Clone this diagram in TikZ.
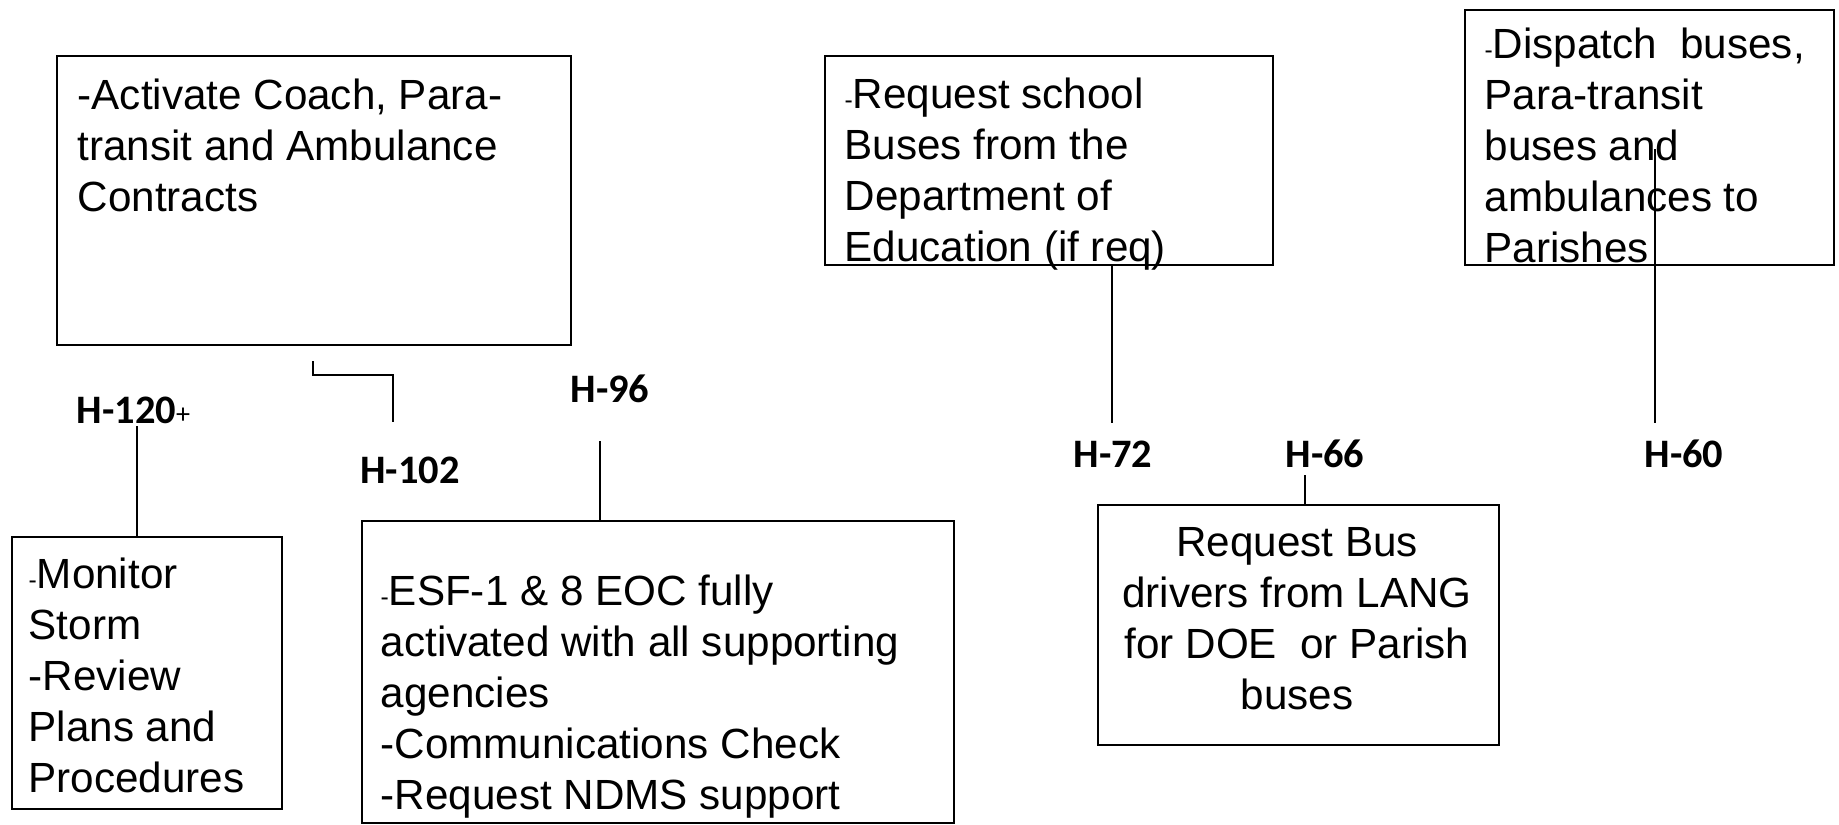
\documentclass[tikz,border=0pt]{standalone}
\usepackage{fontspec}
\setmainfont{Liberation Sans}
\newfontfamily\hfont{Carlito}
\newcommand{\sdash}{{\fontsize{7}{7}\selectfont -}}

\begin{document}
\begin{tikzpicture}[
    x=0.01cm, y=-0.01cm,
    box/.style={rectangle, draw, line width=0.6pt, inner sep=0pt, anchor=north west},
    txt/.style={inner sep=0pt, anchor=north west, align=left, font=\fontsize{12}{14.5}\selectfont},
    ctxt/.style={inner sep=0pt, align=center, font=\fontsize{12}{14.5}\selectfont},
    hlab/.style={inner sep=0pt, font=\hfont\bfseries\fontsize{11.5}{13}\selectfont},
    link/.style={line width=0.5pt}
]
\useasboundingbox (0,0) rectangle (1839,824);

% Task boxes
\node[box, minimum width=5.14cm, minimum height=2.89cm] (act) at (56,55) {};
\node[box, minimum width=2.70cm, minimum height=2.72cm] (mon) at (11,536) {};
\node[box, minimum width=5.92cm, minimum height=3.02cm] (esf) at (361,520) {};
\node[box, minimum width=4.48cm, minimum height=2.09cm] (school) at (824,55) {};
\node[box, minimum width=4.01cm, minimum height=2.40cm] (lang) at (1097,504) {};
\node[box, minimum width=3.69cm, minimum height=2.55cm] (disp) at (1464,9) {};

% Box texts
\node[txt] (acttxt) at (77,73) {\strut-Activate Coach, Para-\\transit and Ambulance\\Contracts};
\node[txt] (montxt) at (28,552) {\strut\sdash Monitor\\Storm\\-Review\\Plans and\\Procedures};
\node[txt] (esftxt) at (380,569) {\strut\sdash ESF-1 \& 8 EOC fully\\activated with all supporting\\agencies\\-Communications Check\\-Request NDMS support};
\node[txt] (schooltxt) at (844,72) {\strut\sdash Request school\\Buses from the\\Department of\\Education (if req)};
\node[ctxt] (langtxt) at (1297,619) {Request Bus\\drivers from LANG\\for DOE\ \ or Parish\\buses};
\node[txt] (disptxt) at (1484,22) {\strut\sdash Dispatch\ \ buses,\\Para-transit\\buses and\\ambulances to\\Parishes};

% Time labels
\node[hlab, anchor=west] (h120) at (76,410) {H-120{\mdseries\fontsize{8}{8}\selectfont +}};
\node[hlab] (h102) at (410,470) {H-102};
\node[hlab] (h96) at (610,389) {H-96};
\node[hlab] (h72) at (1113,454) {H-72};
\node[hlab] (h66) at (1325,454) {H-66};
\node[hlab] (h60) at (1684,454) {H-60};

% Tick ends
\coordinate (t120) at (137,426);
\coordinate (a1) at (313,361);
\coordinate (a2) at (393,422);
\coordinate (t96) at (600,441);
\coordinate (t72) at (1112,423);
\coordinate (t66) at (1305,475);
\coordinate (t60a) at (1655,149);
\coordinate (t60) at (1655,423);

% Connectors
\draw[link] (t120) -- (t120 |- mon.north);
\draw[link] (a1) -- ++(0,14) -| (a2);
\draw[link] (t96) -- (t96 |- esf.north);
\draw[link] (t72 |- school.south) -- (t72);
\draw[link] (t66) -- (t66 |- lang.north);
\draw[link] (t60a) -- (t60);

\end{tikzpicture}
\end{document}
